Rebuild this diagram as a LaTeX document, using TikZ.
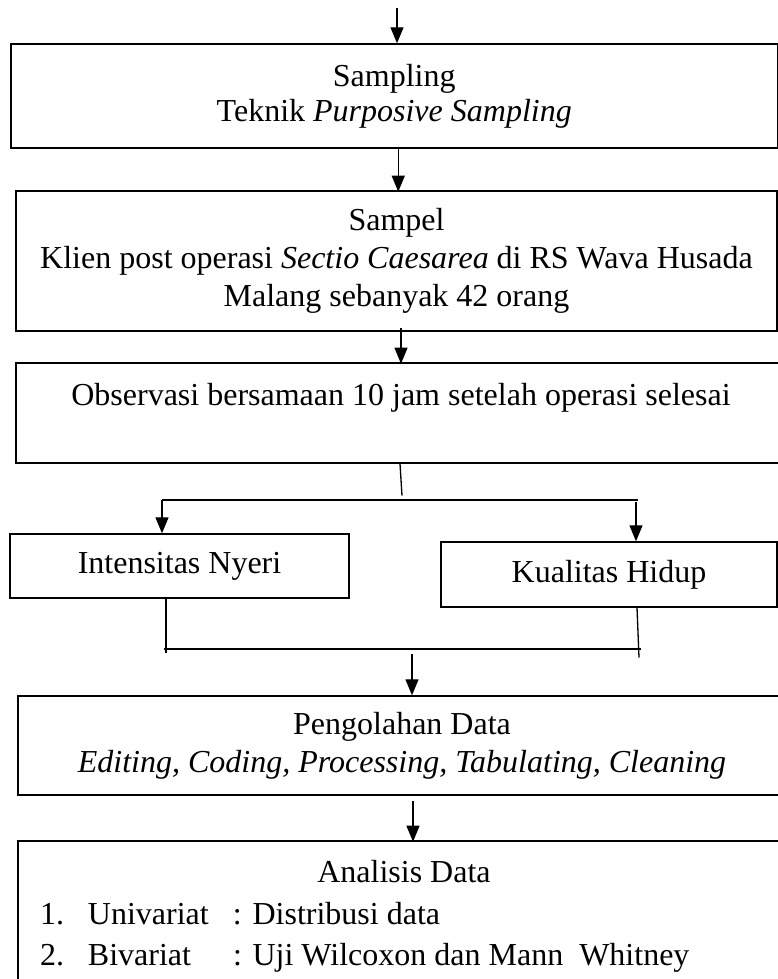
\documentclass[tikz,border=0pt]{standalone}
\usepackage{fontspec}
\setmainfont{Liberation Serif}
\usetikzlibrary{arrows.meta}
\setlength{\parindent}{0pt}
\tikzset{
  box/.style={draw, line width=1.4pt, inner sep=0pt, align=center,
    font=\fontsize{32}{38}\selectfont},
  flow/.style={line width=1.3pt},
  arr/.style={flow, -{Triangle[width=13pt,length=16pt]}},
}
\newcommand{\listline}[3]{\makebox[772pt][l]{\hspace*{22pt}\makebox[48pt][l]{#1}\makebox[145pt][l]{#2}: #3}}

\begin{document}
\begin{tikzpicture}[x=1pt,y=-1pt]
\useasboundingbox (0,0) rectangle (778,979);
\clip (0,0) rectangle (778,979);
% boxes
\node[box, minimum width=766.5pt, minimum height=104pt,
  font=\fontsize{32}{35}\selectfont] (sampling) at (394.25,96)
  {Sampling\\Teknik \textit{Purposive Sampling}};
\node[box, minimum width=761pt, minimum height=140pt] (sampel) at (396.5,261)
  {Sampel\\Klien post operasi \textit{Sectio Caesarea} di RS Wava Husada\\Malang sebanyak 42 orang};
\node[box, minimum width=770pt, minimum height=100pt] (observasi) at (401,413)
  {Observasi bersamaan 10 jam setelah operasi selesai\\~};
\node[box, minimum width=339pt, minimum height=64pt] (nyeri) at (179.5,566)
  {Intensitas Nyeri};
\node[box, minimum width=336pt, minimum height=65pt] (hidup) at (609,574.5)
  {Kualitas Hidup};
\node[box, minimum width=768pt, minimum height=99pt] (olah) at (402,745.5)
  {Pengolahan Data\\\textit{Editing, Coding, Processing, Tabulating, Cleaning}};
\node[box, minimum width=772pt, minimum height=151pt,
  font=\fontsize{32}{41.5}\selectfont] (analisis) at (404,916.5)
  {Analisis Data\\
   \listline{1.}{Univariat}{Distribusi data}\\
   \listline{2.}{Bivariat}{Uji Wilcoxon dan Mann\ \ Whitney}};
% connectors
\coordinate (top) at (397,8);
\draw[arr] (top) -- (top |- sampling.north);
\draw[arr] ([xshift=4pt]sampling.south) -- ++(0,43);
\draw[arr] ([xshift=4.5pt,yshift=4pt]sampel.south) -- ++(0,36);
% split
\coordinate (splitL) at (162,500);
\coordinate (splitR) at (638,500);
\coordinate (downR) at (636,502);
\draw[flow] ([xshift=-1pt]observasi.south) -- ++(2,32);
\draw[flow] (splitL) -- (splitR);
\draw[arr] (splitL) -- (splitL |- nyeri.north);
\draw[arr] (downR) -- (downR |- hidup.north);
% merge
\coordinate (mergeL) at (164,649);
\coordinate (mergeR) at (641,649);
\coordinate (merge) at (412,654);
\draw[flow] ([xshift=-13.5pt]nyeri.south) -- ++(0,54);
\draw[flow] ([xshift=28pt]hidup.south) -- ++(2,50);
\draw[flow] (mergeL) -- (mergeR);
\draw[arr] (merge) -- (merge |- olah.north);
\draw[arr] ([xshift=11pt,yshift=-5pt]olah.south) -- ++(0,41);
\end{tikzpicture}
\end{document}
